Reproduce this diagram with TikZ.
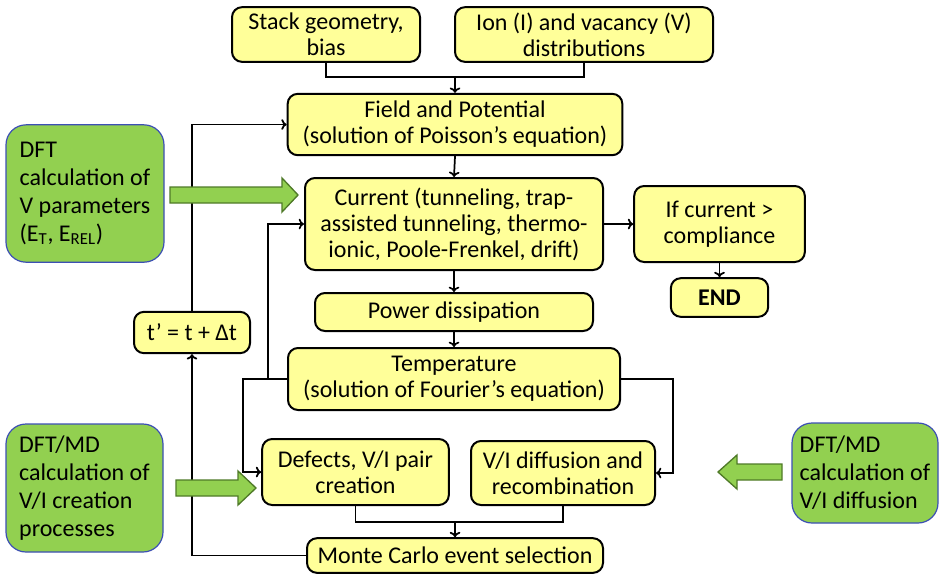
\documentclass[tikz,border=0pt]{standalone}
\usepackage{fontspec}
\setmainfont{Carlito}
\usepackage{tikz}
\usetikzlibrary{arrows.meta}
\definecolor{boxyellow}{HTML}{FFFF99}
\definecolor{dftgreen}{HTML}{92D050}
\definecolor{dftedge}{HTML}{3C4FB4}
\definecolor{arrowedge}{HTML}{4F7A28}

\begin{document}
\begin{tikzpicture}[x=0.75pt,y=-0.75pt,>={To[length=4pt,width=8pt]},
  box/.style={draw, fill=boxyellow, line width=1.5pt, rounded corners=7.5pt,
    align=center, inner sep=0pt, font=\fontsize{18}{19.5}\selectfont},
  dft/.style={draw=dftedge, fill=dftgreen, line width=0.9pt, rounded corners=15pt,
    align=left, inner sep=0pt, font=\fontsize{18}{21}\selectfont},
  link/.style={line width=1.3pt}]
\useasboundingbox (0,0) rectangle (941,576);

% yellow boxes of the loop
\node[box, minimum width=141pt, minimum height=41pt] (geo) at (326,34.5) {Stack geometry,\\bias};
\node[box, minimum width=193.5pt, minimum height=41pt] (dist) at (584,34.5) {Ion (I) and vacancy (V)\\distributions};
\node[box, minimum width=251pt, minimum height=46pt] (fld) at (455,124.5) {Field and Potential\\(solution of Poisson’s equation)};
\node[box, minimum width=223.5pt, minimum height=69pt] (cur) at (454,224) {Current (tunneling, trap-\\assisted tunneling, thermo-\\ionic, Poole-Frenkel, drift)};
\node[box, minimum width=208.5pt, minimum height=28.5pt] (pow) at (454,312) {Power dissipation};
\node[box, minimum width=249pt, minimum height=46.5pt] (tmp) at (454,379) {Temperature\\(solution of Fourier’s equation)};
\node[box, minimum width=128pt, minimum height=57pt] (lim) at (719.5,224) {If current >\\compliance};
\node[box, minimum width=73pt, minimum height=29pt] (stop) at (719.5,297.5) {\textbf{END}};
\node[box, minimum width=87pt, minimum height=31pt] (tnew) at (192,332.5) {t’ = t + Δt};
\node[box, minimum width=140pt, minimum height=49.5pt] (dfc) at (355.5,472) {Defects, V/I pair\\creation};
\node[box, minimum width=138pt, minimum height=48pt] (dif) at (563,473) {V/I diffusion and\\recombination};
\node[box, minimum width=222pt, minimum height=26pt] (mc) at (455,555.5) {Monte Carlo event selection};

% green boxes
\node[dft, minimum width=118.5pt, minimum height=103pt] (g1) at (85,193.5) {DFT\\calculation of\\V parameters\\(E\textsubscript{T}, E\textsubscript{REL})};
\node[dft, minimum width=117.75pt, minimum height=96pt] (g2) at (84.5,488) {DFT/MD\\calculation of\\V/I creation\\processes};
\node[dft, minimum width=109.5pt, minimum height=75pt] (g3) at (865,473) {DFT/MD\\calculation of\\V/I diffusion};

% join points
\coordinate (j1) at (455,77);
\coordinate (j2) at (455,522);
\coordinate (tl) at (243,379);
\coordinate (tb) at (268,379);
\coordinate (tr) at (673,379);

\draw[link] (geo.south) |- (j1) -| (dist.south);
\draw[link,->] (j1) -- (fld.north);
\draw[link,->] (fld.south) -- (cur.north);
\draw[link,->] (cur.south) -- (pow.north);
\draw[link,->] (pow.south) -- (tmp.north);
\draw[link,->] (cur.east) -- (lim.west);
\draw[link,->] (lim.south) -- (stop.north);
\draw[link,->] (tmp.west) -- (tl) |- (dfc.west);
\draw[link,->] (tb) |- (cur.west);
\draw[link,->] (tmp.east) -- (tr) |- (dif.east);
\draw[link] (dfc.south) |- (j2) -| (dif.south);
\draw[link,->] (j2) -- (mc.north);
\draw[link,->] (mc.west) -| (tnew.south);
\draw[link,->] (tnew.north) |- (fld.west);

% block arrows: start x / tip x / y / head length
\foreach \xa/\xb/\yc/\hd in {170/298/195/16, 176/256/488/18, 782/718/472/-19}
\draw[fill=dftgreen, draw=arrowedge, line width=1pt, line join=miter]
  (\xa,{\yc-8}) -- ({\xb-\hd},{\yc-8}) -- ({\xb-\hd},{\yc-17}) -- (\xb,\yc)
  -- ({\xb-\hd},{\yc+17}) -- ({\xb-\hd},{\yc+8}) -- (\xa,{\yc+8}) -- cycle;
\end{tikzpicture}
\end{document}
